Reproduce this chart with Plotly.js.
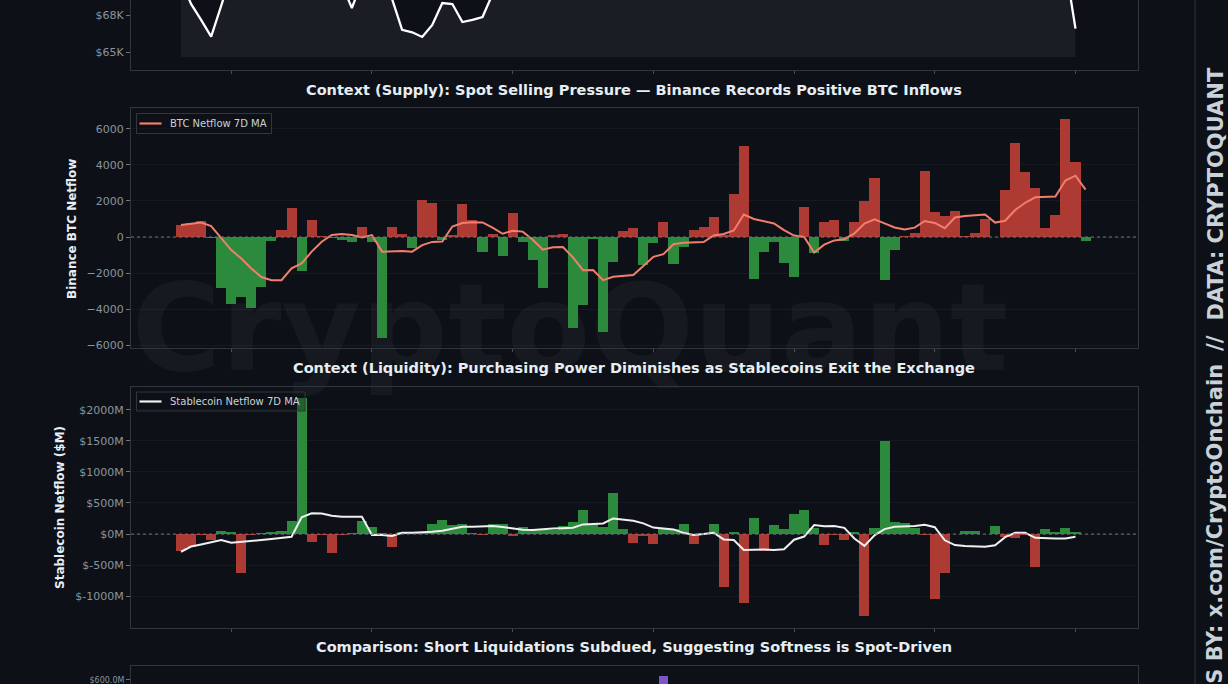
<!DOCTYPE html>
<html><head><meta charset="utf-8">
<script src="https://cdn.plot.ly/plotly-3.0.1.min.js"></script>
<style>html,body{margin:0;padding:0;background:#0d1117;overflow:hidden;}#chart{width:1228px;height:684px;}</style>
</head><body><div id="chart"></div>
<script>
// ---- data ----
const btcNetflow = [650, 750, 900, -50, -2800, -3700, -3300, -3950, -2750, -200,
  400, 1600, -1870, 940, 50, -50, -150, -300, 570, -300,
  -5600, 570, 150, -620, 2050, 1870, -150, 100, 1810, 940,
  -810, 180, -1040, 1310, -300, -1280, -2850, 100, 150, -5040,
  -3780, -100, -5260, -1370, 350, 500, -1560, -330, 830, -1500,
  -540, 390, 530, 1130, 100, 2390, 5020, -2300, -810, -300,
  -1460, -2200, 1680, -900, 850, 970, -200, 850, 2020, 3260,
  -2390, -720, 50, 250, 3670, 1410, 1170, 1460, 30, 220,
  990, 0, 2610, 5200, 3590, 2700, 480, 1220, 6550, 4180,
  -200];
const btcNetflowMA = [670, 720, 800, 610, -75, -720, -1190, -1740, -2220, -2390,
  -2390, -1740, -1460, -810, -260, 110, 170, 110, -20, 110,
  -810, -780, -780, -810, -450, -270, -250, 580, 780, 820,
  810, 520, 180, 350, 300, -150, -700, -570, -550, -1130,
  -1840, -1830, -2390, -2200, -2150, -2100, -1600, -1100, -950, -400,
  -320, -300, -280, 90, 170, 360, 1250, 1000, 870, 750,
  380, 80, 0, -860, -420, -190, -120, 200, 750, 980,
  760, 530, 420, 520, 890, 780, 490, 1080, 1170, 1200,
  1250, 800, 900, 1500, 1900, 2200, 2230, 2250, 3130, 3400,
  2630];
const stableNetflow = [-270, -210, -20, -100, 50, 40, -620, -20, 10, 30,
  50, 210, 2190, -125, -10, -300, -10, 10, 210, 120,
  10, -215, 30, 30, 20, 170, 225, 145, 170, 20,
  -10, 160, 160, -30, 118, 60, 60, 60, 134, 188,
  386, 155, 118, 665, 75, -139, -30, -160, 91, 80,
  160, -160, 0, 170, -847, 27, -1115, 263, -268, 145,
  80, 322, 386, 91, -177, -10, -96, 38, -1319, 91,
  1501, 198, 172, 91, -16, -1051, -622, 0, 54, 54,
  0, 129, -43, -70, -10, -536, 75, 38, 91, 38];
const stableNetflowMA = [-284, -200, -166, -130, -95, -140, -128, -110, -96, -78,
  -60, -43, 270, 333, 330, 295, 279, 279, 279, -16,
  -16, -32, 21, 21, 25, 38, 55, 90, 118, 118,
  118, 128, 115, 91, 70, 64, 80, 91, 95, 102,
  156, 165, 172, 252, 235, 214, 172, 105, 91, 75,
  20, -16, 0, 21, -86, -96, -257, -250, -247, -255,
  -245, -90, -40, 145, 125, 129, 100, -70, -190, -20,
  80, 118, 125, 129, 150, 110, -100, -177, -190, -200,
  -204, -180, -50, 21, 21, -60, -70, -70, -70, -43];
const btcPrice = [70800, 68900, 67600, 66240, 68750, 71300, 72000, 71500, 72500, 73000,
  72200, 71800, 72600, 71900, 71200, 70600, 70500, 68570, 70700, 71400,
  70600, 69300, 66800, 66600, 66220, 67190, 68970, 68890, 67430, 67600,
  67840, 69700, 70800, 71500, 70900, 71800, 72400, 71600, 70900, 71300,
  70400, 70900, 70100, 70700, 71500, 72300, 71800, 72700, 73400, 72900,
  73800, 74400, 73700, 74900, 75600, 74800, 75300, 74600, 73900, 74200,
  73500, 72800, 73300, 72600, 71900, 72400, 71700, 72200, 71500, 70900,
  71600, 72100, 71400, 70800, 71300, 71900, 71200, 70600, 71100, 71700,
  72300, 71600, 72100, 72800, 72200, 71600, 72300, 71700, 72000, 66900];
const priceFloor = 64600;
const shortLiqDay = [48];
const shortLiqValue = [610];
const xTickDays = [5, 19, 33, 47, 61, 75, 89];
const btcLegendLabel = 'BTC Netflow 7D MA';
const stableLegendLabel = 'Stablecoin Netflow 7D MA';

// ---- styling ----
const W = 1228, H = 684;
const BG = '#0d1117', FRAME = '#30363d', TICK = '#8b949e', TXT = '#e6edf3';
const RED = '#ad3b33', GREEN = '#2c8a3c', BTC_MA = '#f27f6d', STABLE_MA = '#f0f0f0';
const FONT = 'DejaVu Sans';
const px = v => v / W;
const py = v => 1 - v / H;
const XRANGE = [-4.975, 95.22];
const XDOM = [px(131), px(1138)];

const btcX = btcNetflow.map((_, i) => i);
const stableX = stableNetflow.map((_, i) => i);
const priceX = btcPrice.map((_, i) => i);

const traces = [
  {x: priceX, y: priceX.map(() => priceFloor), type: 'scatter', mode: 'lines',
   line: {width: 0, color: 'rgba(0,0,0,0)'}, xaxis: 'x', yaxis: 'y', showlegend: false, hoverinfo: 'skip'},
  {x: priceX, y: btcPrice, type: 'scatter', mode: 'lines', fill: 'tonexty', fillcolor: '#1a1d24',
   line: {color: '#ffffff', width: 2.3}, xaxis: 'x', yaxis: 'y', showlegend: false},
  {x: btcX, y: btcNetflow, type: 'bar', width: 1,
   marker: {color: btcNetflow.map(v => v >= 0 ? RED : GREEN), line: {width: 0}},
   xaxis: 'x2', yaxis: 'y2', showlegend: false},
  {x: btcX, y: btcNetflowMA, type: 'scatter', mode: 'lines', name: btcLegendLabel,
   line: {color: BTC_MA, width: 2}, xaxis: 'x2', yaxis: 'y2', showlegend: false},
  {x: stableX, y: stableNetflow, type: 'bar', width: 1,
   marker: {color: stableNetflow.map(v => v >= 0 ? GREEN : RED), line: {width: 0}},
   xaxis: 'x3', yaxis: 'y3', showlegend: false},
  {x: stableX, y: stableNetflowMA, type: 'scatter', mode: 'lines', name: stableLegendLabel,
   line: {color: STABLE_MA, width: 2}, xaxis: 'x3', yaxis: 'y3', showlegend: false},
  {x: shortLiqDay, y: shortLiqValue, type: 'bar', width: 0.9,
   marker: {color: '#7d55c7'}, xaxis: 'x4', yaxis: 'y4', showlegend: false}
];

function xAx(anchor, mirror) {
  return {domain: XDOM, range: XRANGE, anchor: anchor, showgrid: false, zeroline: false,
    showline: true, linecolor: FRAME, linewidth: 1, mirror: mirror,
    tickmode: 'array', tickvals: xTickDays, ticks: 'outside', ticklen: 3, tickcolor: '#484f58',
    showticklabels: false, fixedrange: true};
}
function yAx(anchor, dom, range, vals, text) {
  return {domain: dom, range: range, anchor: anchor, showgrid: true, gridcolor: 'rgba(255,255,255,0.04)',
    zeroline: false, showline: true, linecolor: FRAME, linewidth: 1, mirror: true,
    tickmode: 'array', tickvals: vals, ticktext: text, ticks: 'outside', ticklen: 4, tickcolor: '#6e7681',
    tickfont: {family: FONT, size: 11, color: TICK}, fixedrange: true};
}

function legendBox(x0, x1, y0, y1, color, label) {
  const ym = (y0 + y1) / 2;
  return {
    shapes: [
      {type: 'rect', xref: 'paper', yref: 'paper', x0: px(x0), x1: px(x1), y0: py(y1), y1: py(y0),
       line: {color: FRAME, width: 1}, fillcolor: 'rgba(13,17,23,0.35)', layer: 'above'},
      {type: 'line', xref: 'paper', yref: 'paper', x0: px(x0 + 3), x1: px(x0 + 25), y0: py(ym), y1: py(ym),
       line: {color: color, width: 2.2}, layer: 'above'}
    ],
    annotation: {text: label, xref: 'paper', yref: 'paper', x: px(x0 + 31), y: py(ym), xanchor: 'left', yanchor: 'middle',
      showarrow: false, font: {family: FONT, size: 10, color: '#c9d1d9'}}
  };
}
const lg1 = legendBox(136.5, 271.5, 113.5, 133.5, BTC_MA, btcLegendLabel);
const lg2 = legendBox(136.5, 305, 392, 411, STABLE_MA, stableLegendLabel);

function title(text, y) {
  return {text: text, xref: 'paper', yref: 'paper', x: px(634.5), y: py(y), xanchor: 'center', yanchor: 'middle',
    showarrow: false, font: {family: FONT, size: 14.5, weight: 'bold', color: TXT}};
}
function sideText(text, y, yanchor) {
  return {text: text, textangle: -90, xref: 'paper', yref: 'paper', x: px(1215), y: py(y), xanchor: 'center',
    yanchor: yanchor, showarrow: false, font: {family: FONT, size: 21, weight: 'bold', color: '#c9d1d9'}};
}

const layout = {
  width: W, height: H, margin: {l: 0, r: 0, t: 0, b: 0},
  paper_bgcolor: BG, plot_bgcolor: BG, bargap: 0, showlegend: false,
  font: {family: FONT, color: TXT},
  xaxis: xAx('y', false),
  xaxis2: xAx('y2', true),
  xaxis3: xAx('y3', true),
  xaxis4: xAx('y4', true),
  yaxis: Object.assign(yAx('x', [py(70), 1], [63540, 69217], [65000, 68000], ['$65K', '$68K']), {showgrid: false}),
  yaxis2: yAx('x2', [py(348), py(108)], [-6150, 7150], [-6000, -4000, -2000, 0, 2000, 4000, 6000],
    ['\u22126000', '\u22124000', '\u22122000', '0', '2000', '4000', '6000']),
  yaxis3: yAx('x3', [py(628), py(387.3)], [-1510, 2360], [-1000, -500, 0, 500, 1000, 1500, 2000],
    ['$-1000M', '$-500M', '$0M', '$500M', '$1000M', '$1500M', '$2000M']),
  yaxis4: Object.assign(yAx('x4', [0, py(666)], [589.4, 637], [600], ['$600.0M']),
    {showgrid: false, ticklabeloverflow: 'allow', tickfont: {family: FONT, size: 8, color: TICK}}),
  shapes: [
    {type: 'rect', xref: 'paper', yref: 'paper', x0: px(130), x1: px(1010), y0: py(389), y1: py(249),
     line: {width: 0}, fillcolor: 'rgba(0,0,0,0)', layer: 'below',
     label: {text: 'CryptoQuant', textposition: 'middle center',
       font: {family: FONT, size: 122, weight: 'bold', color: 'rgba(255,255,255,0.04)'}}},
    {type: 'line', xref: 'x2 domain', yref: 'y2', x0: 0, x1: 1, y0: 0, y1: 0, layer: 'above',
     line: {color: '#6e7681', width: 1, dash: '3px,3px'}},
    {type: 'line', xref: 'x3 domain', yref: 'y3', x0: 0, x1: 1, y0: 0, y1: 0, layer: 'above',
     line: {color: '#6e7681', width: 1, dash: '3px,3px'}},
    {type: 'line', xref: 'paper', yref: 'paper', x0: px(1195), x1: px(1195), y0: 0, y1: 1,
     line: {color: FRAME, width: 1}}
  ].concat(lg1.shapes, lg2.shapes),
  annotations: [
    title('Context (Supply): Spot Selling Pressure \u2014 Binance Records Positive BTC Inflows', 90),
    title('Context (Liquidity): Purchasing Power Diminishes as Stablecoins Exit the Exchange', 368),
    title('Comparison: Short Liquidations Subdued, Suggesting Softness is Spot-Driven', 647),
    {text: 'Binance BTC Netflow', textangle: -90,
     xref: 'paper', yref: 'paper', x: px(72), y: py(229), xanchor: 'center', yanchor: 'middle', showarrow: false,
     font: {family: FONT, size: 12, weight: 'bold', color: TXT}},
    {text: 'Stablecoin Netflow ($M)', textangle: -90,
     xref: 'paper', yref: 'paper', x: px(60), y: py(508), xanchor: 'center', yanchor: 'middle', showarrow: false,
     font: {family: FONT, size: 12, weight: 'bold', color: TXT}},
    sideText('ANALYSIS BY: x.com/CryptoOnchain', 362, 'top'),
    sideText('//', 343, 'middle'),
    sideText('DATA: CRYPTOQUANT', 323, 'bottom'),
    lg1.annotation, lg2.annotation
  ]
};

Plotly.newPlot('chart', traces, layout, {staticPlot: true, displayModeBar: false});
</script></body></html>
